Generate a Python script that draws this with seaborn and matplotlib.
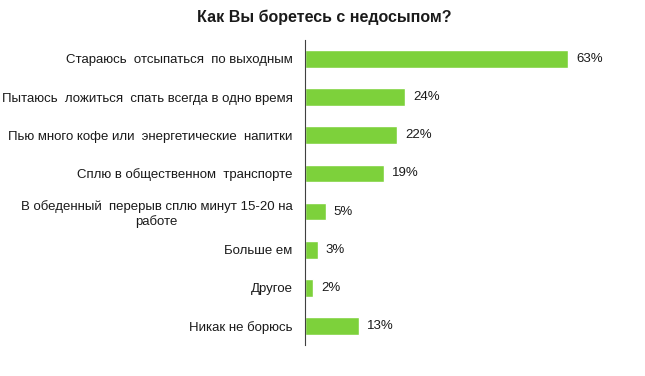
import pandas as pd
import seaborn as sns
import matplotlib.pyplot as plt

# Survey answers and shares (%)
answers = [
    'Стараюсь  отсыпаться  по выходным',
    'Пытаюсь  ложиться  спать всегда в одно время',
    'Пью много кофе или  энергетические  напитки',
    'Сплю в общественном  транспорте',
    'В обеденный  перерыв сплю минут 15-20 на\nработе',
    'Больше ем',
    'Другое',
    'Никак не борюсь',
]
shares = [63, 24, 22, 19, 5, 3, 2, 13]

df = pd.DataFrame({'answer': answers, 'share': shares})

sns.set_style('white')
plt.rcParams['font.family'] = ['Liberation Sans', 'DejaVu Sans']

fig = plt.figure(figsize=(6.45, 3.76), dpi=100)
ax = fig.add_axes([0.473, 0.082, 0.527, 0.812])

sns.barplot(data=df, x='share', y='answer', color='#7dd13b', width=0.46,
            saturation=1, ax=ax)

ax.set_xlim(0, 81.4)
ax.set_ylim(7.5, -0.5)
ax.set_xlabel('')
ax.set_ylabel('')
ax.set_xticks([])
for s in ['top', 'right', 'bottom']:
    ax.spines[s].set_visible(False)
ax.spines['left'].set_color('#404040')
ax.spines['left'].set_linewidth(0.8)

ax.tick_params(axis='y', length=0, pad=9, labelsize=9.5, labelcolor='#1a1a1a')
for lab in ax.get_yticklabels():
    lab.set_multialignment('center')

for i, v in enumerate(shares):
    ax.text(v + 1.9, i, f'{v}%', va='center', ha='left', fontsize=9.5, color='#1a1a1a')

fig.suptitle('Как Вы боретесь с недосыпом?', x=0.502, y=0.975, fontsize=11.5,
             fontweight='bold', color='#1a1a1a')

fig.savefig('out.png', dpi=100)
